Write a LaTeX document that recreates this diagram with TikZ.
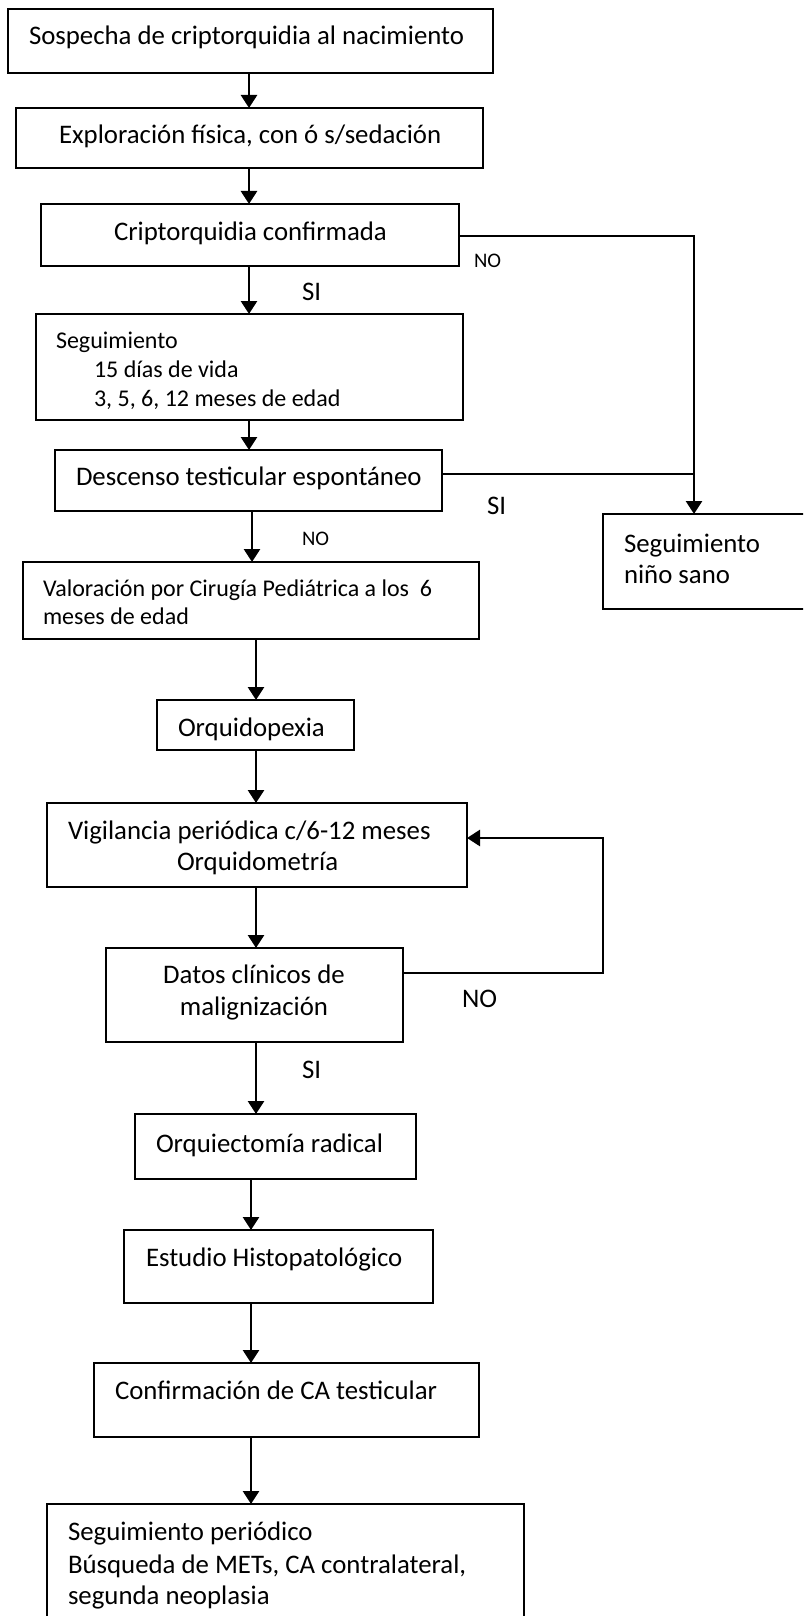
\documentclass[tikz,border=0pt]{standalone}
\usepackage{fontspec}
\setmainfont{Carlito}
\usetikzlibrary{arrows.meta}
\tikzset{
  box/.style={draw, line width=1.8pt, rectangle, inner sep=0pt, outer sep=0pt},
  txt/.style={anchor=base west, inner sep=0pt, outer sep=0pt, font=\fontsize{26.8}{31}\selectfont},
  txtc/.style={txt, anchor=base},
  txts/.style={txt, font=\fontsize{24}{29}\selectfont},
  lbls/.style={txt, font=\fontsize{20.7}{24}\selectfont},
  conn/.style={line width=2.7pt},
  arr/.style={conn, -{Triangle[length=13pt,width=16pt]}},
}
\begin{document}
\begin{tikzpicture}[x=1pt,y=-1pt]
\useasboundingbox (0,0) rectangle (803,1616);
\fill[white] (0,0) rectangle (803,1616);
\clip (0,0) rectangle (803,1616);

% column coordinates
\coordinate (cA) at (249,0);
\coordinate (cB) at (252,0);
\coordinate (cC) at (256,0);
\coordinate (cD) at (251,0);
\coordinate (cR) at (694,0);
\coordinate (j5) at (694,474);
\coordinate (fb1) at (603,973);
\coordinate (fb2) at (603,838);
\coordinate (n3) at (0,236);

% boxes
\node[box, minimum width=485pt, minimum height=64pt] (b1) at (250.5,41) {};
\node[box, minimum width=467pt, minimum height=60pt] (b2) at (249.5,138) {};
\node[box, minimum width=418pt, minimum height=62pt] (b3) at (250,235) {};
\node[box, minimum width=427pt, minimum height=106pt] (b4) at (249.5,367) {};
\node[box, minimum width=387pt, minimum height=61pt] (b5) at (248.5,480.5) {};
\node[box, minimum width=456pt, minimum height=77pt] (b6) at (251,600.5) {};
\node[box, minimum width=209pt, minimum height=95pt] (b7) at (707.5,561.5) {};
\node[box, minimum width=197pt, minimum height=50pt] (b8) at (255.5,725) {};
\node[box, minimum width=420pt, minimum height=84pt] (b9) at (257,845) {};
\node[box, minimum width=297pt, minimum height=94pt] (b10) at (254.5,995) {};
\node[box, minimum width=281pt, minimum height=65pt] (b11) at (275.5,1146.5) {};
\node[box, minimum width=309pt, minimum height=73pt] (b12) at (278.5,1266.5) {};
\node[box, minimum width=385pt, minimum height=74pt] (b13) at (286.5,1400) {};
\node[box, minimum width=477pt, minimum height=130pt] (b14) at (285.5,1569) {};

% texts
\node[txt] (t1) at (29,45) {Sospecha de criptorquidia al nacimiento};
\node[txt] (t2) at (59,144) {Exploración física, con ó s/sedación};
\node[txt] (t3) at (114,240) {Criptorquidia confirmada};
\node[txts] (t4a) at (56,348) {Seguimiento};
\node[txts] (t4b) at (94,377) {15 días de vida};
\node[txts] (t4c) at (94,406) {3, 5, 6, 12 meses de edad};
\node[txt] (t5) at (76,485) {Descenso testicular espontáneo};
\node[txts] (t6a) at (43,596) {Valoración por Cirugía Pediátrica a los\ \ 6};
\node[txts] (t6b) at (43,624) {meses de edad};
\node[txt] (t7a) at (624,552) {Seguimiento};
\node[txt] (t7b) at (624,583) {niño sano};
\node[txt] (t8) at (178,736) {Orquidopexia};
\node[txt] (t9a) at (68,839) {Vigilancia periódica c/6-12 meses};
\node[txt] (t9b) at (177,870) {Orquidometría};
\node[txtc] (t10a) at (254,983) {Datos clínicos de};
\node[txtc] (t10b) at (254,1015) {malignización};
\node[txt] (t11) at (156,1152) {Orquiectomía radical};
\node[txt] (t12) at (146,1266) {Estudio Histopatológico};
\node[txt] (t13) at (115,1399) {Confirmación de CA testicular};
\node[txt] (t14a) at (68,1540) {Seguimiento periódico};
\node[txt] (t14b) at (68,1573) {Búsqueda de METs, CA contralateral,};
\node[txt] (t14c) at (68,1604) {segunda neoplasia};

% labels
\node[lbls] (l1) at (474,267) {NO};
\node[txt] (l2) at (302,300) {SI};
\node[lbls] (l3) at (302,545) {NO};
\node[txt] (l4) at (487,514) {SI};
\node[txt] (l5) at (462,1007) {NO};
\node[txt] (l6) at (302,1078) {SI};

% connectors
\draw[arr] (b1.south -| cA) -- (b2.north -| cA);
\draw[arr] (b2.south -| cA) -- (b3.north -| cA);
\draw[arr] (b3.south -| cA) -- (b4.north -| cA);
\draw[arr] (b4.south -| cA) -- (b5.north -| cA);
\draw[arr] (b5.south -| cB) -- (b6.north -| cB);
\draw[arr] (b6.south -| cC) -- (b8.north -| cC);
\draw[arr] (b8.south -| cC) -- (b9.north -| cC);
\draw[arr] (b9.south -| cC) -- (b10.north -| cC);
\draw[arr] (b10.south -| cC) -- (b11.north -| cC);
\draw[arr] (b11.south -| cD) -- (b12.north -| cD);
\draw[arr] (b12.south -| cD) -- (b13.north -| cD);
\draw[arr] (b13.south -| cD) -- (b14.north -| cD);

\draw[arr] (b3.east |- n3) -| (b7.north -| cR);
\draw[conn] (b5.east |- j5) -- (j5);
\draw[arr] (b10.east |- fb1) -- (fb1) -- (fb2) -- (b9.east |- fb2);
\end{tikzpicture}
\end{document}
